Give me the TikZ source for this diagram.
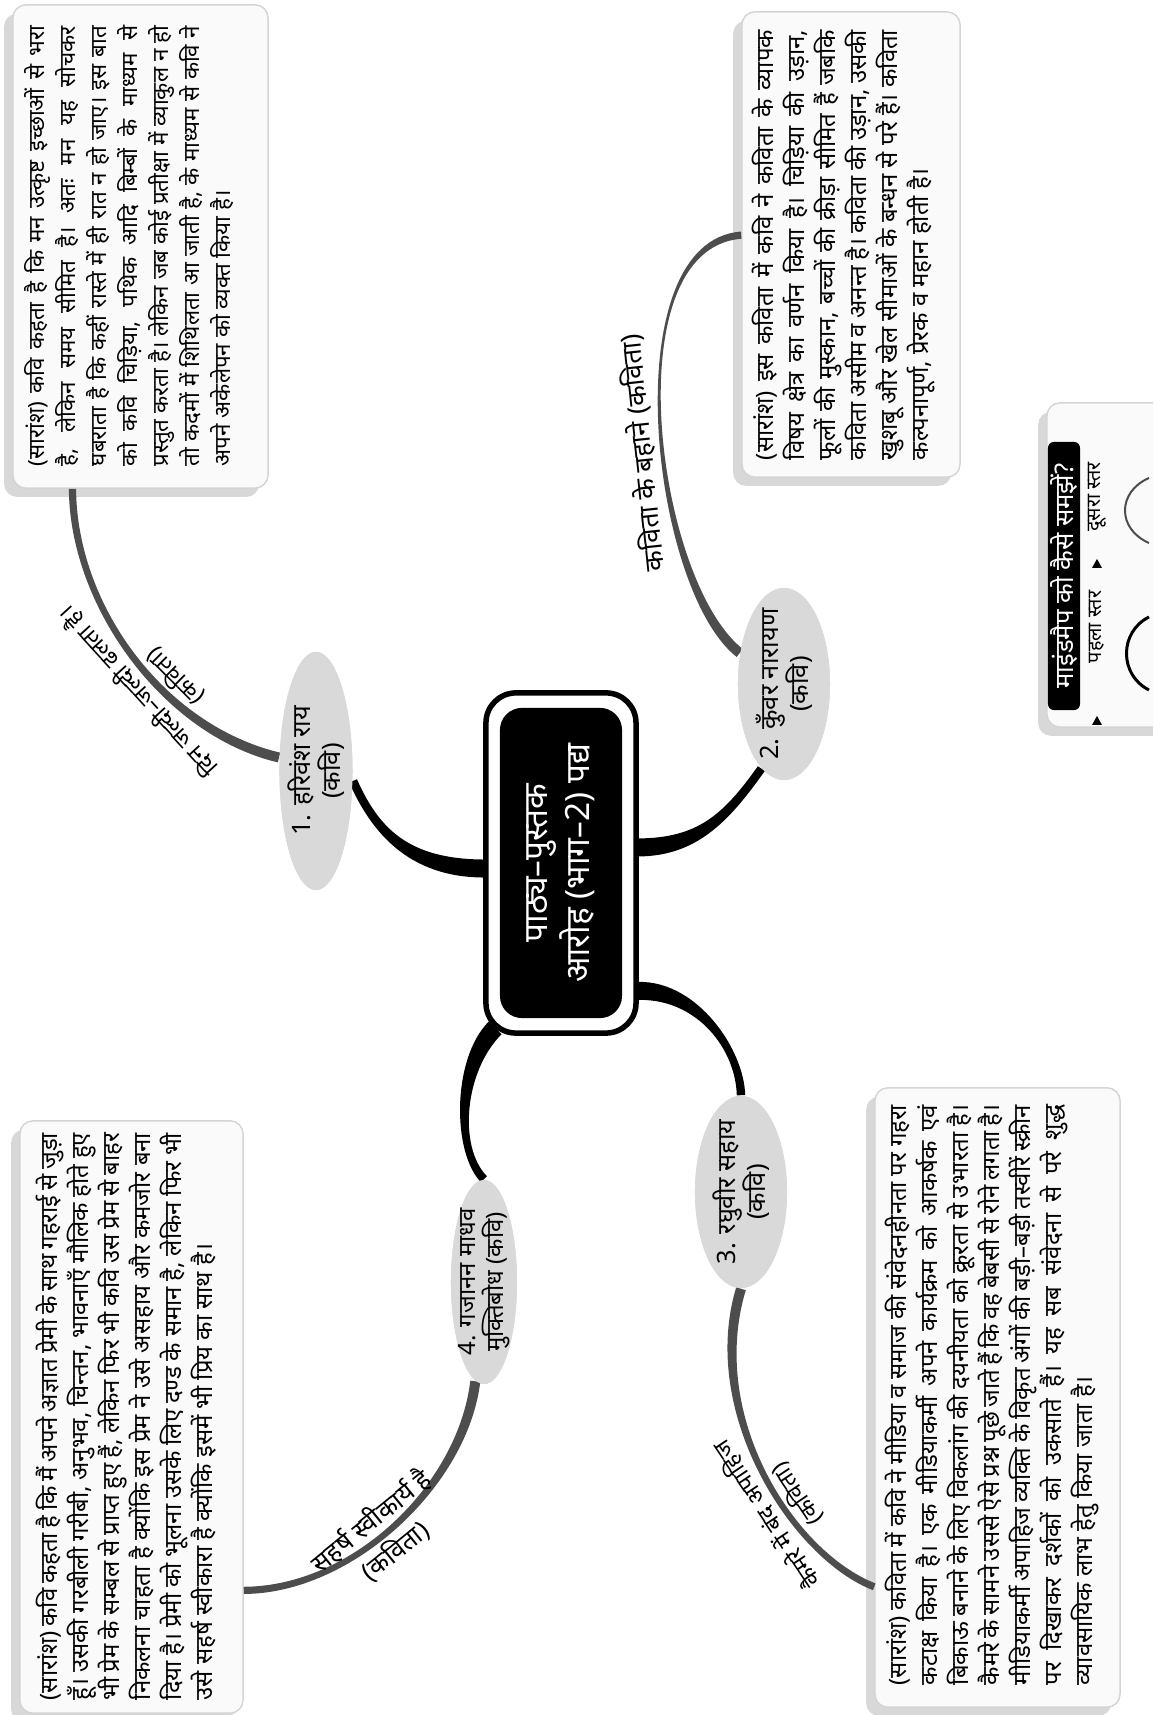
\documentclass[tikz,border=0pt]{standalone}
\usepackage{fontspec}
\newfontfamily\dev[Script=Devanagari]{Noto Sans}
\usetikzlibrary{calc,shapes.geometric,shadows}
\definecolor{ellgray}{HTML}{D9D9D9}
\definecolor{lvltwo}{HTML}{4D4D4D}
\definecolor{boxfill}{HTML}{FAFAFA}
\definecolor{boxline}{HTML}{D4D4D4}
\newcommand{\mmribbon}[7]{%
  \fill[#7] ($#1!#5!90:#2$) .. controls ($#2!#5!-90:#1$) and ($#3!#6!90:#4$) .. ($#4!#6!-90:#3$)
   -- ($#4!#6!90:#3$) .. controls ($#3!#6!-90:#4$) and ($#2!#5!90:#1$) .. ($#1!#5!-90:#2$) -- cycle;}
\tikzset{
  boxstyle/.style={draw=boxline, line width=0.4pt, fill=boxfill, rounded corners=0.13cm,
    drop shadow={shadow xshift=-2.5pt, shadow yshift=-2.5pt, opacity=0.3}, inner sep=0pt},
  boxtext/.style={anchor=north west, inner sep=0pt, align=justify, font=\dev\fontsize{6.8}{8.8}\selectfont},
  ellnode/.style={ellipse, fill=ellgray, inner sep=0pt},
  elltext/.style={inner sep=0pt, align=center, font=\dev\fontsize{7.2}{8.4}\selectfont},
  brlabel/.style={sloped, inner sep=1.5pt, font=\dev\fontsize{7.6}{8.6}\selectfont},
  smalllabel/.style={font=\dev\fontsize{6.6}{7.6}\selectfont},
}
\begin{document}
\begin{tikzpicture}[x=0.01cm,y=0.01cm]
\begin{scope}[rotate=90, transform shape]
\useasboundingbox (0,0) rectangle (1715,1153);
\clip (0,0) rectangle (1715,1153);
\fill[white] (0,0) rectangle (1715,1153);

% centre frame and node
\node[draw=black, line width=0.055cm, rounded corners=0.3cm, minimum width=3.4cm, minimum height=1.5cm] (frame) at (852,592) {};
\coordinate (c1) at ($(frame.north west)!0.484!(frame.north east)$);
\coordinate (c2) at ($(frame.south west)!0.545!(frame.south east)$);
\coordinate (c3) at ($(frame.south west)!0.13!(frame.south east)$);
\coordinate (c4) at ($(frame.north west)+(8,-12)$);

% level-1 nodes (shapes)
\node[ellnode, minimum width=2.38cm, minimum height=0.73cm] (n1) at (944,837) {};
\node[ellnode, minimum width=1.92cm, minimum height=0.92cm] (n2) at (1031,369) {};
\node[ellnode, minimum width=1.92cm, minimum height=0.92cm] (n3) at (523,412) {};
\node[ellnode, minimum width=2.04cm, minimum height=0.66cm] (n4) at (433,669) {};

% boxes
\node[boxstyle, minimum width=4.83cm, minimum height=2.55cm] (b1) at (1468.5,1012.5) {};
\node[boxstyle, minimum width=4.65cm, minimum height=2.18cm] (b2) at (1470.5,302) {};
\node[boxstyle, minimum width=6.19cm, minimum height=2.45cm] (b3) at (317.5,155.5) {};
\node[boxstyle, minimum width=5.92cm, minimum height=2.23cm] (b4) at (298,1021.5) {};

\coordinate (g1e) at ($(b1.south west)!0.765!(b1.north west)$);
\coordinate (g2e) at ($(b2.north west)!0.52!(b2.north east)$);
\coordinate (g3e) at ($(b3.north west)!0.195!(b3.north east)$);
\coordinate (g4e) at ($(b4.south west)!0.208!(b4.south east)$);

% level-2 connectors
\mmribbon{(n1.70)}{(985,990)}{(1110,1080)}{(g1e)}{0.05cm}{0.036cm}{lvltwo}
\mmribbon{(n2.55)}{(1130,500)}{(1470,540)}{(g2e)}{0.05cm}{0.036cm}{lvltwo}
\mmribbon{(n3.west)}{(300,450)}{(160,360)}{(g3e)}{0.05cm}{0.036cm}{lvltwo}
\mmribbon{(n4.175)}{(230,690)}{(125,800)}{(g4e)}{0.05cm}{0.036cm}{lvltwo}

% level-1 connectors
\mmribbon{(c1)}{(847,745)}{(885,778)}{(n1.255)}{0.09cm}{0.042cm}{black}
\mmribbon{(c2)}{(868,455)}{(898,426)}{(n2.165)}{0.09cm}{0.042cm}{black}
\mmribbon{(c3)}{(725,455)}{(665,413)}{(n3.east)}{0.09cm}{0.042cm}{black}
\mmribbon{(c4)}{(650,695)}{(565,698)}{(n4.east)}{0.09cm}{0.042cm}{black}

% redraw nodes on top
\node[ellnode, minimum width=2.38cm, minimum height=0.73cm] at (n1) {};
\node[ellnode, minimum width=1.92cm, minimum height=0.92cm] at (n2) {};
\node[ellnode, minimum width=1.92cm, minimum height=0.92cm] at (n3) {};
\node[ellnode, minimum width=2.04cm, minimum height=0.66cm] at (n4) {};
\node[elltext] (n1t) at (n1) {1. हरिवंश राय\\(कवि)};
\node[elltext] (n2t) at (n2) {2. कुँवर नारायण\\(कवि)};
\node[elltext] (n3t) at (n3) {3. रघुवीर सहाय\\(कवि)};
\node[elltext, font=\dev\fontsize{6.8}{8}\selectfont] (n4t) at (n4) {4. गजानन माधव\\मुक्तिबोध (कवि)};

\node[fill=black, rounded corners=0.22cm, minimum width=3.1cm, minimum height=1.22cm, text=white,
  align=center, font=\dev\fontsize{9.5}{10.5}\selectfont] (ctr) at (frame) {पाठ्य–पुस्तक\\आरोह (भाग–2) पद्य};

% branch labels
\path (n1.70) .. controls (985,990) and (1110,1080) .. (g1e)
  node[brlabel, smalllabel, pos=0.42, above] (l1a) {दिन जल्दी–जल्दी ढलता है।}
  node[brlabel, smalllabel, pos=0.38, below] (l1b) {(कविता)};
\path (n2.55) .. controls (1130,500) and (1470,540) .. (g2e)
  node[brlabel, pos=0.45, above] (l2a) {कविता के बहाने (कविता)};
\path (n3.west) .. controls (300,450) and (160,360) .. (g3e)
  node[brlabel, smalllabel, pos=0.6, above] (l3a) {कैमरे में बंद अपाहिज}
  node[brlabel, smalllabel, pos=0.6, below] (l3b) {(कविता)};
\path (n4.175) .. controls (230,690) and (125,800) .. (g4e)
  node[brlabel, font=\dev\fontsize{7.3}{8.4}\selectfont, pos=0.55, above] (l4a) {सहर्ष स्वीकार्य है}
  node[brlabel, font=\dev\fontsize{7.3}{8.4}\selectfont, pos=0.55, below] (l4b) {(कविता)};

% box texts
\node[boxtext, text width=4.4cm, font=\dev\fontsize{6.35}{8.8}\selectfont] (t1) at ($(b1.north west)+(22,-12)$) {(सारांश) कवि कहता है कि मन उत्कृष्ट इच्छाओं से भरा\linebreak है, लेकिन समय सीमित है। अतः मन यह सोचकर\linebreak घबराता है कि कहीं रास्ते में ही रात न हो जाए। इस बात\linebreak को कवि चिड़िया, पथिक आदि बिम्बों के माध्यम से\linebreak प्रस्तुत करता है। लेकिन जब कोई प्रतीक्षा में व्याकुल न हो\linebreak तो कदमों में शिथिलता आ जाती है, के माध्यम से कवि ने\linebreak अपने अकेलेपन को व्यक्त किया है।};
\node[boxtext, text width=4.3cm] (t2) at ($(b2.north west)+(17,-10)$) {(सारांश) इस कविता में कवि ने कविता के व्यापक\linebreak विषय क्षेत्र का वर्णन किया है। चिड़िया की उड़ान,\linebreak फूलों की मुस्कान, बच्चों की क्रीड़ा सीमित हैं जबकि\linebreak कविता असीम व अनन्त है। कविता की उड़ान, उसकी\linebreak खुशबू और खेल सीमाओं के बन्धन से परे हैं। कविता\linebreak कल्पनापूर्ण, प्रेरक व महान होती है।};
\node[boxtext, text width=5.8cm] (t3) at ($(b3.north west)+(22,-10)$) {(सारांश) कविता में कवि ने मीडिया व समाज की संवेदनहीनता पर गहरा\linebreak कटाक्ष किया है। एक मीडियाकर्मी अपने कार्यक्रम को आकर्षक एवं\linebreak बिकाऊ बनाने के लिए विकलांग की दयनीयता को क्रूरता से उभारता है।\linebreak कैमरे के सामने उससे ऐसे प्रश्न पूछे जाते हैं कि वह बेबसी से रोने लगता है।\linebreak मीडियाकर्मी अपाहिज व्यक्ति के विकृत अंगों की बड़ी–बड़ी तस्वीरें स्क्रीन\linebreak पर दिखाकर दर्शकों को उकसाते हैं। यह सब संवेदना से परे शुद्ध\linebreak व्यावसायिक लाभ हेतु किया जाता है।};
\node[boxtext, text width=5.67cm] (t4) at ($(b4.north west)+(13,-16)$) {(सारांश) कवि कहता है कि मैं अपने अज्ञात प्रेमी के साथ गहराई से जुड़ा\linebreak हूँ। उसकी गरबीली गरीबी, अनुभव, चिन्तन, भावनाएँ मौलिक होते हुए\linebreak भी प्रेम के सम्बल से प्राप्त हुए हैं, लेकिन फिर भी कवि उस प्रेम से बाहर\linebreak निकलना चाहता है क्योंकि इस प्रेम ने उसे असहाय और कमजोर बना\linebreak दिया है। प्रेमी को भूलना उसके लिए दण्ड के समान है, लेकिन फिर भी\linebreak उसे सहर्ष स्वीकारा है क्योंकि इसमें भी प्रिय का साथ है।};

% legend
\node[boxstyle, minimum width=3.24cm, minimum height=1.4cm] (lg) at (1150,36) {};
\node[fill=black, rounded corners=0.06cm, minimum width=2.68cm, minimum height=0.32cm, inner sep=0pt,
  text=white, font=\dev\fontsize{7.3}{8}\selectfont] (lgt) at (1139,89) {माइंडमैप को कैसे समझें?};
\fill (990,51) -- (999,56) -- (990,61) -- cycle;
\node[inner sep=0pt, font=\dev\fontsize{5.6}{6.5}\selectfont] (lg1) at (1088,56) {पहला स्तर};
\draw[line width=0.03cm] (1025,4) .. controls (1040,34) and (1083,34) .. (1098,4);
\fill (1147,51) -- (1156,56) -- (1147,61) -- cycle;
\node[inner sep=0pt, font=\dev\fontsize{5.6}{6.5}\selectfont] (lg2) at (1218,56) {दूसरा स्तर};
\draw[lvltwo, line width=0.02cm] (1172,4) .. controls (1186,36) and (1223,36) .. (1237,4);
\end{scope}
\end{tikzpicture}
\end{document}
